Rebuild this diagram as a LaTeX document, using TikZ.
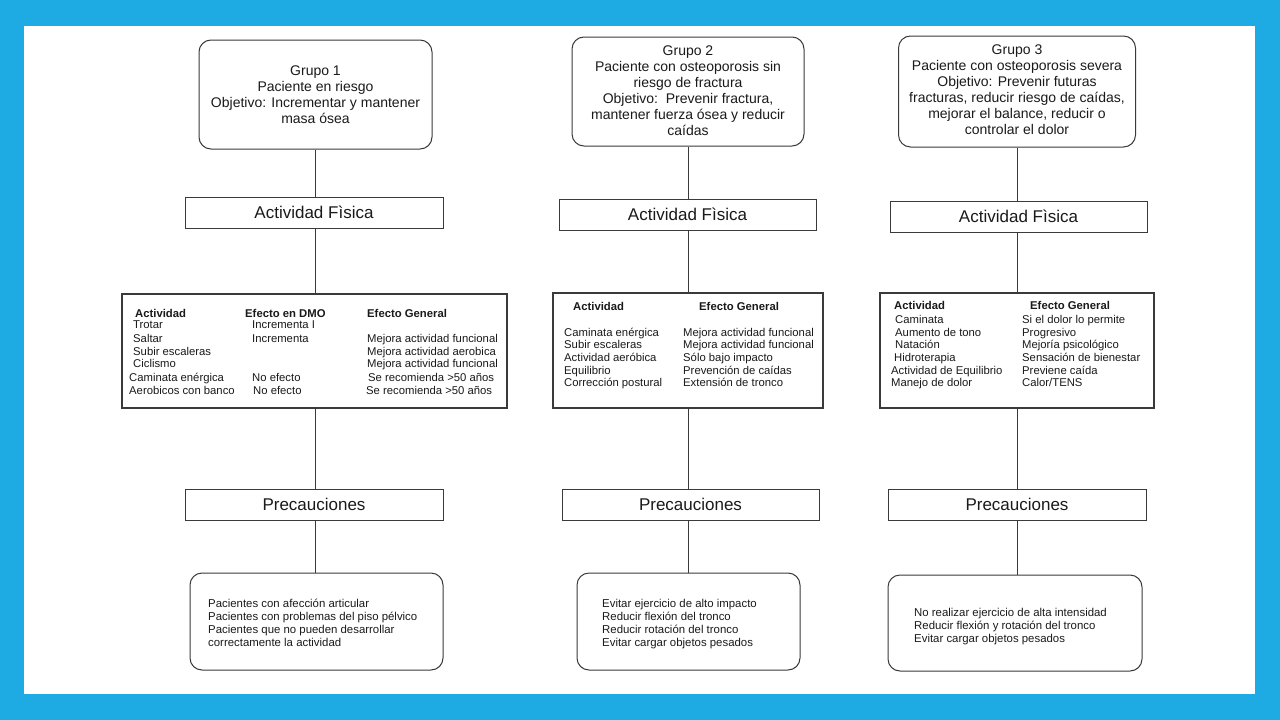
\documentclass[tikz,border=0pt]{standalone}
\usepackage{fontspec}
\setmainfont{Liberation Sans}
\definecolor{bgblue}{HTML}{1EAAE2}
\definecolor{edge}{HTML}{3A3A3A}
\definecolor{ink}{HTML}{1A1A1A}
\tikzset{
  roundbox/.style={draw=edge, line width=1pt, rounded corners=12pt, fill=white, inner sep=0pt},
  headbox/.style={draw=edge, line width=1pt, fill=white, inner sep=0pt, minimum height=31pt, text=ink, font=\fontsize{17}{20}\selectfont},
  tablebox/.style={draw=edge, line width=1.2pt, fill=white, inner sep=0pt},
  toptext/.style={align=center, text=ink, font=\fontsize{14}{16}\selectfont},
  tbl/.style={anchor=base west, inner sep=0pt, text=ink, font=\fontsize{11.3}{13}\selectfont},
  tblh/.style={tbl, font=\fontsize{11.3}{13}\selectfont\bfseries},
  bottext/.style={anchor=north west, inner sep=0pt, align=left, text=ink, font=\fontsize{11.4}{13}\selectfont},
  link/.style={draw=edge, line width=1pt}
}
\newcommand{\tx}[5][tbl]{\node[#1] (#2) at (#3,#4) {#5};}
\begin{document}
\begin{tikzpicture}[x=1pt,y=-1pt]
\useasboundingbox (0,0) rectangle (1280,720);
\fill[bgblue] (0,0) rectangle (1280,720);
\fill[white] (24,26) rectangle (1255,694);

% ---------- Column 1 ----------
\node[roundbox, minimum width=233pt, minimum height=109pt] (top1) at (315.5,94.5) {};
\node[toptext] (top1t) at (315.5,94.5) {Grupo 1\\Paciente en riesgo\\Objetivo: Incrementar y mantener\\masa ósea};
\node[headbox, minimum width=258pt] (af1) at (314,212.5) {Actividad Fìsica};
\node[tablebox, minimum width=385pt, minimum height=114pt] (tab1) at (314.5,351) {};
\node[headbox, minimum width=258pt] (pre1) at (314,504.5) {Precauciones};
\node[roundbox, minimum width=253pt, minimum height=97pt] (bot1) at (316.5,621.5) {};

\draw[link] (top1.south) -- (top1.south |- af1.north);
\draw[link] (top1.south |- af1.south) -- (top1.south |- tab1.north);
\draw[link] (top1.south |- tab1.south) -- (top1.south |- pre1.north);
\draw[link] (top1.south |- pre1.south) -- (top1.south |- bot1.north);

\tx[tblh]{h11}{135}{317}{Actividad}
\tx[tblh]{h12}{245}{317}{Efecto en DMO}
\tx[tblh]{h13}{367}{317}{Efecto General}
\tx{a11}{133}{328}{Trotar}
\tx{a12}{133}{342}{Saltar}
\tx{a13}{133}{355}{Subir escaleras}
\tx{a14}{133}{367.5}{Ciclismo}
\tx{a15}{129}{381}{Caminata enérgica}
\tx{a16}{129}{394}{Aerobicos con banco}
\tx{d11}{252}{328}{Incrementa I}
\tx{d12}{252}{342}{Incrementa}
\tx{d15}{252}{381}{No efecto}
\tx{d16}{253}{394}{No efecto}
\tx{e12}{367}{342}{Mejora actividad funcional}
\tx{e13}{367}{355}{Mejora actividad aerobica}
\tx{e14}{367}{367.5}{Mejora actividad funcional}
\tx{e15}{368}{381}{Se recomienda >50 años}
\tx{e16}{366}{394}{Se recomienda >50 años}

\node[bottext] (b1t) at (208,597.9) {\strut Pacientes con afección articular\\Pacientes con problemas del piso pélvico\\Pacientes que no pueden desarrollar\\correctamente la actividad};

% ---------- Column 2 ----------
\node[roundbox, minimum width=232pt, minimum height=109pt] (top2) at (688,91.5) {};
\node[toptext] (top2t) at (688,90.5) {Grupo 2\\Paciente con osteoporosis sin\\riesgo de fractura\\Objetivo:\ \ Prevenir fractura,\\mantener fuerza ósea y reducir\\caídas};
\node[headbox, minimum width=257pt] (af2) at (687.5,214.5) {Actividad Fìsica};
\node[tablebox, minimum width=270pt, minimum height=115pt] (tab2) at (688,350.5) {};
\node[headbox, minimum width=257pt] (pre2) at (690.5,504.5) {Precauciones};
\node[roundbox, minimum width=223pt, minimum height=97pt] (bot2) at (688.5,621.5) {};

\draw[link] (top2.south) -- (top2.south |- af2.north);
\draw[link] (top2.south |- af2.south) -- (top2.south |- tab2.north);
\draw[link] (top2.south |- tab2.south) -- (top2.south |- pre2.north);
\draw[link] (top2.south |- pre2.south) -- (top2.south |- bot2.north);

\tx[tblh]{h21}{573}{310}{Actividad}
\tx[tblh]{h22}{699}{310}{Efecto General}
\tx{a21}{564}{336}{Caminata enérgica}
\tx{a22}{564}{348.5}{Subir escaleras}
\tx{a23}{564}{361.5}{Actividad aeróbica}
\tx{a24}{564}{374}{Equilibrio}
\tx{a25}{564}{386.5}{Corrección postural}
\tx{e21}{683}{336}{Mejora actividad funcional}
\tx{e22}{683}{348.5}{Mejora actividad funcional}
\tx{e23}{683}{361.5}{Sólo bajo impacto}
\tx{e24}{683}{374}{Prevención de caídas}
\tx{e25}{683}{386.5}{Extensión de tronco}

\node[bottext] (b2t) at (602,597.9) {\strut Evitar ejercicio de alto impacto\\Reducir flexión del tronco\\Reducir rotación del tronco\\Evitar cargar objetos pesados};

% ---------- Column 3 ----------
\node[roundbox, minimum width=237pt, minimum height=111pt] (top3) at (1017,91.5) {};
\node[toptext] (top3t) at (1017,90) {Grupo 3\\Paciente con osteoporosis severa\\Objetivo: Prevenir futuras\\fracturas, reducir riesgo de caídas,\\mejorar el balance, reducir o\\controlar el dolor};
\node[headbox, minimum width=257pt] (af3) at (1018.5,216.5) {Actividad Fìsica};
\node[tablebox, minimum width=274pt, minimum height=115pt] (tab3) at (1017,350.5) {};
\node[headbox, minimum width=258pt] (pre3) at (1017,504.5) {Precauciones};
\node[roundbox, minimum width=254pt, minimum height=96pt] (bot3) at (1015,623) {};

\draw[link] (top3.south) -- (top3.south |- af3.north);
\draw[link] (top3.south |- af3.south) -- (top3.south |- tab3.north);
\draw[link] (top3.south |- tab3.south) -- (top3.south |- pre3.north);
\draw[link] (top3.south |- pre3.south) -- (top3.south |- bot3.north);

\tx[tblh]{h31}{894}{309}{Actividad}
\tx[tblh]{h32}{1030}{309}{Efecto General}
\tx{a31}{895}{323}{Caminata}
\tx{a32}{895}{336}{Aumento de tono}
\tx{a33}{895}{348}{Natación}
\tx{a34}{894}{361.5}{Hidroterapia}
\tx{a35}{891}{374}{Actividad de Equilibrio}
\tx{a36}{891}{386}{Manejo de dolor}
\tx{e31}{1022}{323}{Si el dolor lo permite}
\tx{e32}{1022}{336}{Progresivo}
\tx{e33}{1022}{348}{Mejoría psicológico}
\tx{e34}{1022}{361.5}{Sensación de bienestar}
\tx{e35}{1022}{374}{Previene caída}
\tx{e36}{1022}{386}{Calor/TENS}

\node[bottext] (b3t) at (914,606.9) {\strut No realizar ejercicio de alta intensidad\\Reducir flexión y rotación del tronco\\Evitar cargar objetos pesados};
\end{tikzpicture}
\end{document}
